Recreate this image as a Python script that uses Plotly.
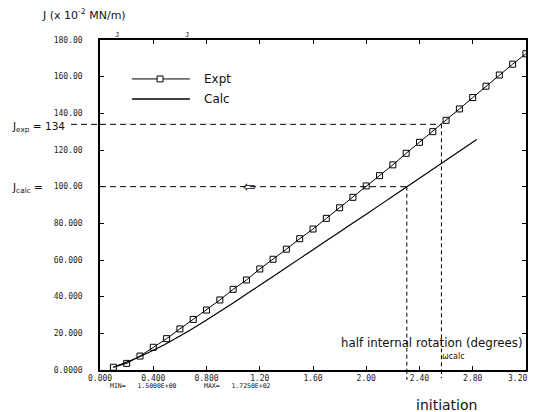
import plotly.graph_objects as go

# ---- data ----
expt_x = [0.1, 0.2, 0.3, 0.4, 0.5, 0.6, 0.7, 0.8, 0.9, 1.0, 1.1, 1.2, 1.3, 1.4, 1.5, 1.6,
          1.7, 1.8, 1.9, 2.0, 2.1, 2.2, 2.3, 2.4, 2.5, 2.6, 2.7, 2.8, 2.9, 3.0, 3.1, 3.2]
expt_j = [1.5, 3.6, 7.6, 12.4, 17.1, 22.4, 27.6, 32.7, 38.2, 44.0, 49.1, 55.1, 60.4, 65.9, 71.6, 76.9,
          82.7, 88.5, 94.2, 100.4, 106.0, 111.9, 118.2, 124.2, 130.0, 136.2, 142.4, 148.6, 154.8, 160.9, 166.8, 172.5]

calc_x = [0.1, 0.2, 0.3, 0.4, 0.5, 0.6, 0.7, 0.8, 0.9, 1.0, 1.1, 1.2, 1.4, 1.6, 1.8, 2.0, 2.2, 2.4, 2.6, 2.83]
calc_j = [1.5, 4.3, 7.4, 10.8, 14.5, 18.5, 22.8, 27.3, 31.9, 36.6, 41.4, 46.2, 55.9, 65.6, 75.3, 85.0, 94.8, 104.6, 114.4, 125.7]

x_tickvals = [0.0, 0.4, 0.8, 1.2, 1.6, 2.0, 2.4, 2.8, 3.2]
x_ticktext = ["0.000", "0.400", "0.800", "1.20", "1.60", "2.00", "2.40", "2.80", ""]
x_last_label = "3.20"   # drawn right-aligned at the axis end so it stays inside the page
y_tickvals = [0, 20, 40, 60, 80, 100, 120, 140, 160, 180]
y_ticktext = ["0.0000", "20.000", "40.000", "60.000", "80.000", "100.00", "120.00", "140.00", "160.00", "180.00"]

J_EXP = 134
J_CALC = 100
THETA_EXP = 2.565
THETA_CALC = 2.305
X_MAX = 3.2

MONO = "DejaVu Sans Mono"
HAND = "DejaVu Sans"

fig = go.Figure()
fig.add_trace(go.Scatter(x=expt_x, y=expt_j, mode="lines+markers", name="Expt",
                         line=dict(color="black", width=1),
                         marker=dict(symbol="square-open", size=6, color="black", line=dict(width=1))))
fig.add_trace(go.Scatter(x=calc_x, y=calc_j, mode="lines", name="Calc", line_shape="spline",
                         line=dict(color="black", width=1.2)))

dash_h = "6px,4px"
dash_v = "4px,3px"
# horizontal reference lines
fig.add_shape(type="line", xref="x", yref="y", x0=0, x1=THETA_EXP, y0=J_EXP, y1=J_EXP,
              line=dict(color="black", width=1, dash=dash_h))
fig.add_shape(type="line", xref="paper", yref="y", x0=-0.068, x1=0, y0=J_EXP, y1=J_EXP,
              line=dict(color="black", width=1, dash=dash_h))
fig.add_shape(type="line", xref="x", yref="y", x0=0, x1=THETA_CALC, y0=J_CALC, y1=J_CALC,
              line=dict(color="black", width=1, dash=dash_h))
# vertical reference lines
fig.add_shape(type="line", xref="x", yref="y", x0=THETA_EXP, x1=THETA_EXP, y0=J_EXP, y1=0,
              line=dict(color="black", width=1, dash=dash_v))
fig.add_shape(type="line", xref="x", yref="y", x0=THETA_CALC, x1=THETA_CALC, y0=J_CALC, y1=0,
              line=dict(color="black", width=1, dash=dash_v))
fig.add_shape(type="line", xref="paper", yref="paper", x0=THETA_EXP / X_MAX, x1=THETA_EXP / X_MAX,
              y0=0, y1=-0.025, line=dict(color="black", width=1, dash=dash_v))
fig.add_shape(type="line", xref="paper", yref="paper", x0=THETA_CALC / X_MAX, x1=THETA_CALC / X_MAX,
              y0=0, y1=-0.03, line=dict(color="black", width=1, dash=dash_v))

# manual legend
fig.add_shape(type="line", xref="paper", yref="paper", x0=0.075, x1=0.211, y0=0.882, y1=0.882,
              line=dict(color="black", width=1))
fig.add_shape(type="rect", xref="paper", yref="paper", x0=0.134, x1=0.148, y0=0.873, y1=0.891,
              line=dict(color="black", width=1), fillcolor="white")
fig.add_shape(type="line", xref="paper", yref="paper", x0=0.075, x1=0.211, y0=0.821, y1=0.821,
              line=dict(color="black", width=1.5))

def txt(x, y, s, size, font=HAND, xanchor="left", yref="paper", color="#111"):
    fig.add_annotation(x=x, y=y, xref="paper", yref=yref, text=s, showarrow=False,
                       xanchor=xanchor, yanchor="middle", font=dict(family=font, size=size, color=color))

# open left arrow on the J_calc line
txt(0.352, J_CALC, "⇦", 15, xanchor="center", yref="y")

txt(0.239, 0.882, "Expt", 12)
txt(0.239, 0.821, "Calc", 12)
txt(-0.141, 1.076, "J (x 10<sup>-2</sup> MN/m)", 11)
txt(-0.212, 0.736, "J<sub>exp</sub> = 134", 10.5)
txt(-0.212, 0.5515, "J<sub>calc</sub> =", 10.5)
txt(0.562, 0.082, "half internal rotation (degrees)", 11.8)
txt(0.737, -0.106, "initiation", 14)
txt(0.798, 0.042, "ωcalc", 8)
txt(0.019, -0.049, "MIN=   1.5000E+00", 6.5, MONO)
txt(0.239, -0.049, "MAX=   1.7250E+02", 6.5, MONO)
txt(0.030, 1.015, "J", 7, MONO)
txt(0.195, 1.015, "J", 7, MONO)
txt(1.008, -0.025, x_last_label, 8, MONO, xanchor="right", color="#222")

fig.update_xaxes(range=[-0.0005, X_MAX + 0.0005], tickvals=x_tickvals, ticktext=x_ticktext,
                 ticks="inside", ticklen=4, tickwidth=1, tickcolor="black",
                 showline=True, linecolor="black", linewidth=1.5, mirror="ticks",
                 showgrid=False, zeroline=False, automargin=False,
                 tickfont=dict(family=MONO, size=8, color="#222"))
fig.update_yaxes(range=[0, 180], tickvals=y_tickvals, ticktext=y_ticktext,
                 ticks="inside", ticklen=4, tickwidth=1, tickcolor="black",
                 showline=True, linecolor="black", linewidth=1.5, mirror="ticks",
                 showgrid=False, zeroline=False, ticklabelstandoff=14, automargin=False,
                 tickfont=dict(family=MONO, size=8, color="#222"))

fig.update_layout(width=533, height=412, margin=dict(l=100, r=7, t=40, b=42),
                  plot_bgcolor="white", paper_bgcolor="white", showlegend=False)

fig.write_html("out.html")
